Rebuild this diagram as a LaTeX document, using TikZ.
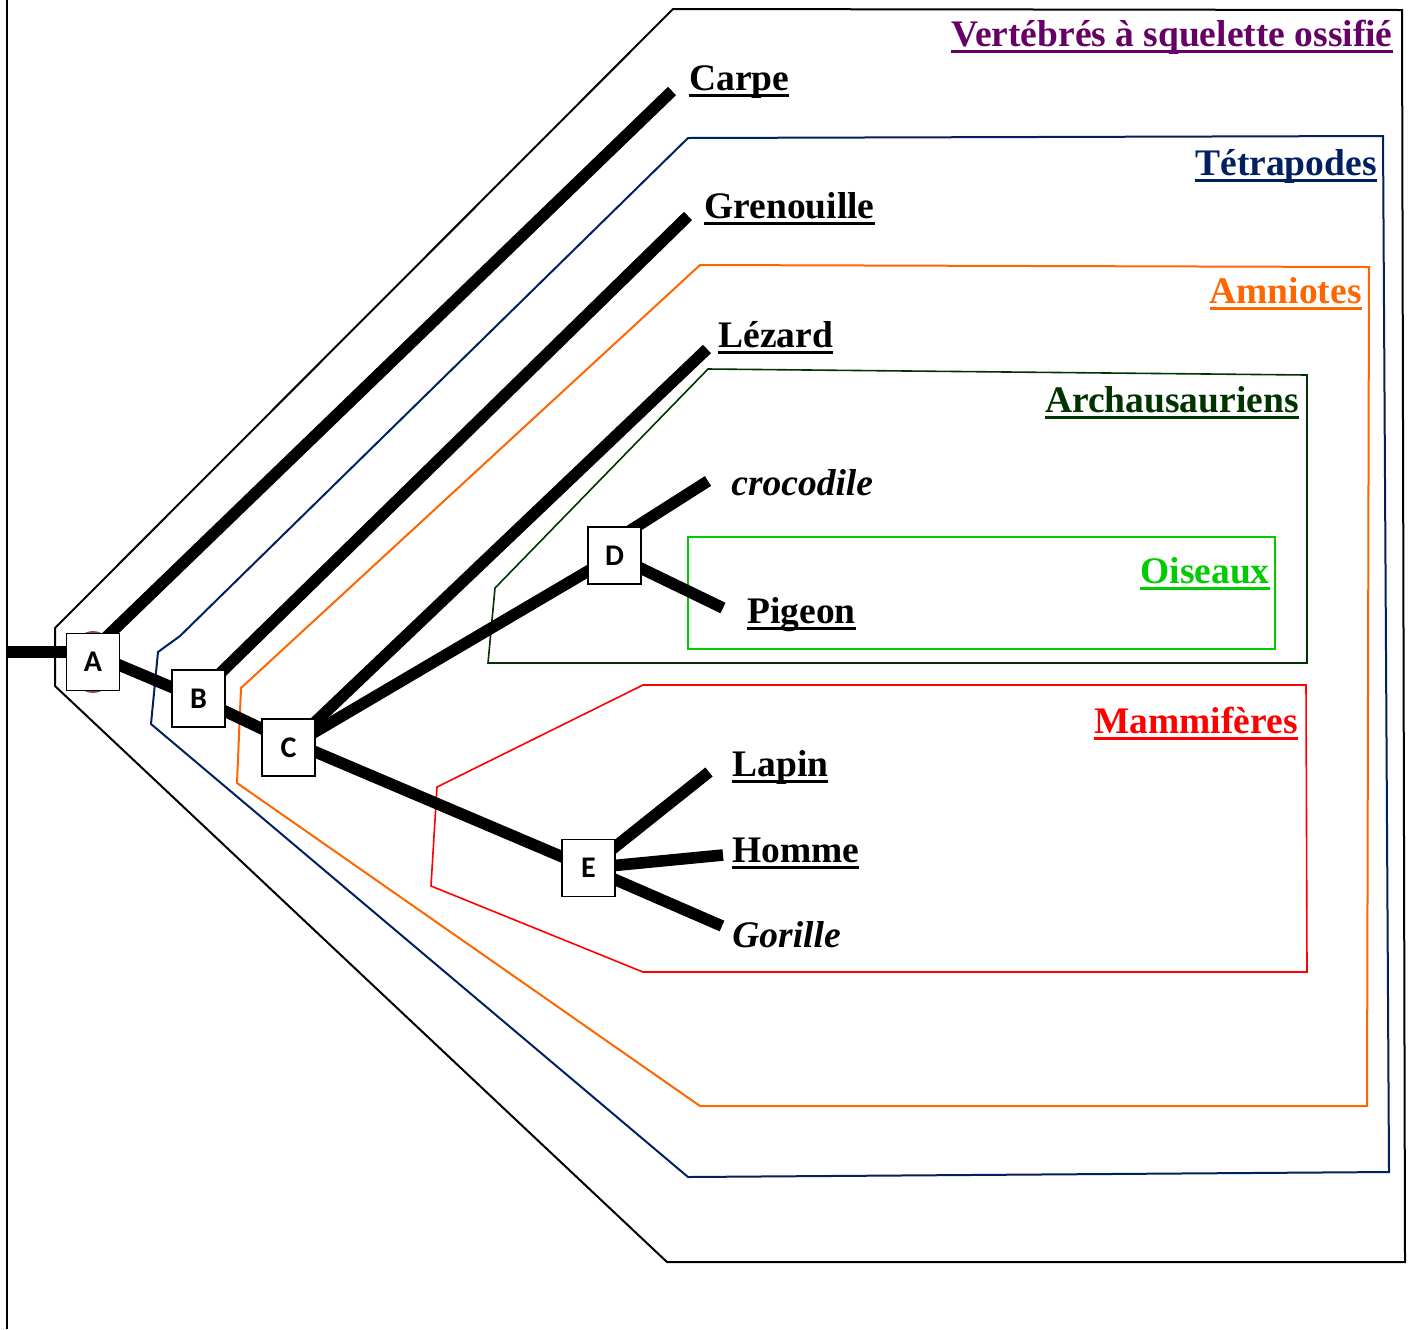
\documentclass[tikz,border=0pt]{standalone}
\usepackage{fontspec}
\setmainfont{Liberation Serif}
\newfontfamily\lettfont{Carlito}
\usetikzlibrary{calc}
\definecolor{vpurple}{RGB}{102,0,102}
\definecolor{tnavy}{RGB}{0,32,96}
\definecolor{aorange}{RGB}{255,102,0}
\definecolor{adgreen}{RGB}{0,51,0}
\definecolor{ogreen}{RGB}{0,204,0}
\definecolor{mred}{RGB}{255,0,0}
\definecolor{circbrown}{RGB}{130,80,80}
\newcommand\ulin[1]{{\setbox0=\hbox{#1}\rlap{\rule[-3.6pt]{\wd0}{1.6pt}}\box0}}
\pgfdeclarelayer{polys}
\pgfdeclarelayer{lines}
\pgfsetlayers{polys,lines,main}
\tikzset{
  lab/.style={inner sep=0pt, font=\fontsize{18.75pt}{21pt}\selectfont\bfseries},
  itlab/.style={lab, font=\fontsize{18.75pt}{21pt}\selectfont\bfseries\itshape},
  knot/.style={draw, fill=white, line width=0.8pt, inner sep=0pt,
    minimum width=26.5pt, minimum height=28.5pt,
    font=\lettfont\fontsize{15pt}{17pt}\selectfont\bfseries},
  branch/.style={line width=5.8pt, line cap=butt},
  clade/.style={line width=1pt, line join=miter},
}
\begin{document}
\begin{tikzpicture}[x=0.5pt,y=-0.5pt]
\useasboundingbox (0,0) rectangle (1418,1329);
% left vertical line
\draw[line width=1.1pt] (7,0) -- (7,1329);

% clade outlines
\begin{pgfonlayer}{polys}
\draw[clade, black] (55,628) -- (673,9) -- (1402,10) -- (1405,1262) -- (667,1262) -- (55,686) -- cycle;
\draw[clade, tnavy] (688,138) -- (1383,136) -- (1389,1172) -- (688,1177) -- (151,724) -- (158,652) -- (180,636) -- cycle;
\draw[clade, aorange] (700,265) -- (1369,267) -- (1367,1106) -- (700,1106) -- (237,783) -- (241,688) -- cycle;
\draw[clade, adgreen, line width=0.8pt] (708,369) -- (1307,375) -- (1307,663) -- (488,663) -- (495,588) -- cycle;
\draw[clade, ogreen, line width=0.8pt] (688,537) rectangle (1275,649);
\draw[clade, mred, line width=0.8pt] (643,685) -- (1306,685) -- (1307,972) -- (643,972) -- (431,886) -- (437,787) -- cycle;
\end{pgfonlayer}

% nodes
\node[knot] (A) at (93,662) {A};
\node[knot] (B) at (198.5,698.5) {B};
\node[knot] (C) at (288.5,747.5) {C};
\node[knot] (D) at (614.5,555.5) {D};
\node[knot] (E) at (588.5,868) {E};

% free ends
\coordinate (root) at (8,652);
\coordinate (tCarpe) at (672,91);
\coordinate (tGren) at (688,216);
\coordinate (tLez) at (707,349);
\coordinate (tCroc) at (708,481);
\coordinate (tPig) at (723,608);
\coordinate (tLap) at (709,772);
\coordinate (tHom) at (723,855);
\coordinate (tGor) at (722,926);

\begin{pgfonlayer}{lines}
\fill[circbrown] (A.center) ellipse [x radius=24, y radius=31];
\draw[branch] (root) -- ($(A.center)+(0,-10)$);
\draw[branch] ($(A.center)+(0,-12)$) -- (tCarpe);
\draw[branch] ($(A.center)+(0,-8)$) -- (B.center);
\draw[branch] ($(B.center)+(0,-4)$) -- (tGren);
\draw[branch] (B.center) -- ($(C.center)+(0,-6)$);
\draw[branch] (C.center) -- (tLez);
\draw[branch] (C.center) -- (D.center);
\draw[branch] ($(D.center)+(0,-15)$) -- (tCroc);
\draw[branch] (D.center) -- (tPig);
\draw[branch] ($(C.center)+(0,-7)$) -- (E.center);
\draw[branch] (E.center) -- (tLap);
\draw[branch] (E.center) -- (tHom);
\draw[branch] (E.center) -- (tGor);
\end{pgfonlayer}

% labels
\node[lab, text=vpurple, anchor=base east] (lV) at (1393,46) {\ulin{Vertébrés à squelette ossifié}};
\node[lab, anchor=base west] (lCarpe) at (689,90) {\ulin{Carpe}};
\node[lab, text=tnavy, anchor=base east] (lT) at (1377,175) {\ulin{Tétrapodes}};
\node[lab, anchor=base west] (lGren) at (704,218) {\ulin{Grenouille}};
\node[lab, text=aorange, anchor=base east] (lAm) at (1362,303) {\ulin{Amniotes}};
\node[lab, anchor=base west] (lLez) at (718,347) {\ulin{Lézard}};
\node[lab, text=adgreen, anchor=base east] (lAr) at (1299,412) {\ulin{Archausauriens}};
\node[itlab, anchor=base west] (lCroc) at (731,495) {crocodile};
\node[lab, text=ogreen, anchor=base east] (lOi) at (1270,583) {\ulin{Oiseaux}};
\node[lab, anchor=base west] (lPig) at (747,623) {\ulin{Pigeon}};
\node[lab, text=mred, anchor=base east] (lMa) at (1298,733) {\ulin{Mammifères}};
\node[lab, anchor=base west] (lLap) at (732,776) {\ulin{Lapin}};
\node[lab, anchor=base west] (lHom) at (732,862) {\ulin{Homme}};
\node[itlab, anchor=base west] (lGor) at (732,947) {Gorille};
\end{tikzpicture}
\end{document}
